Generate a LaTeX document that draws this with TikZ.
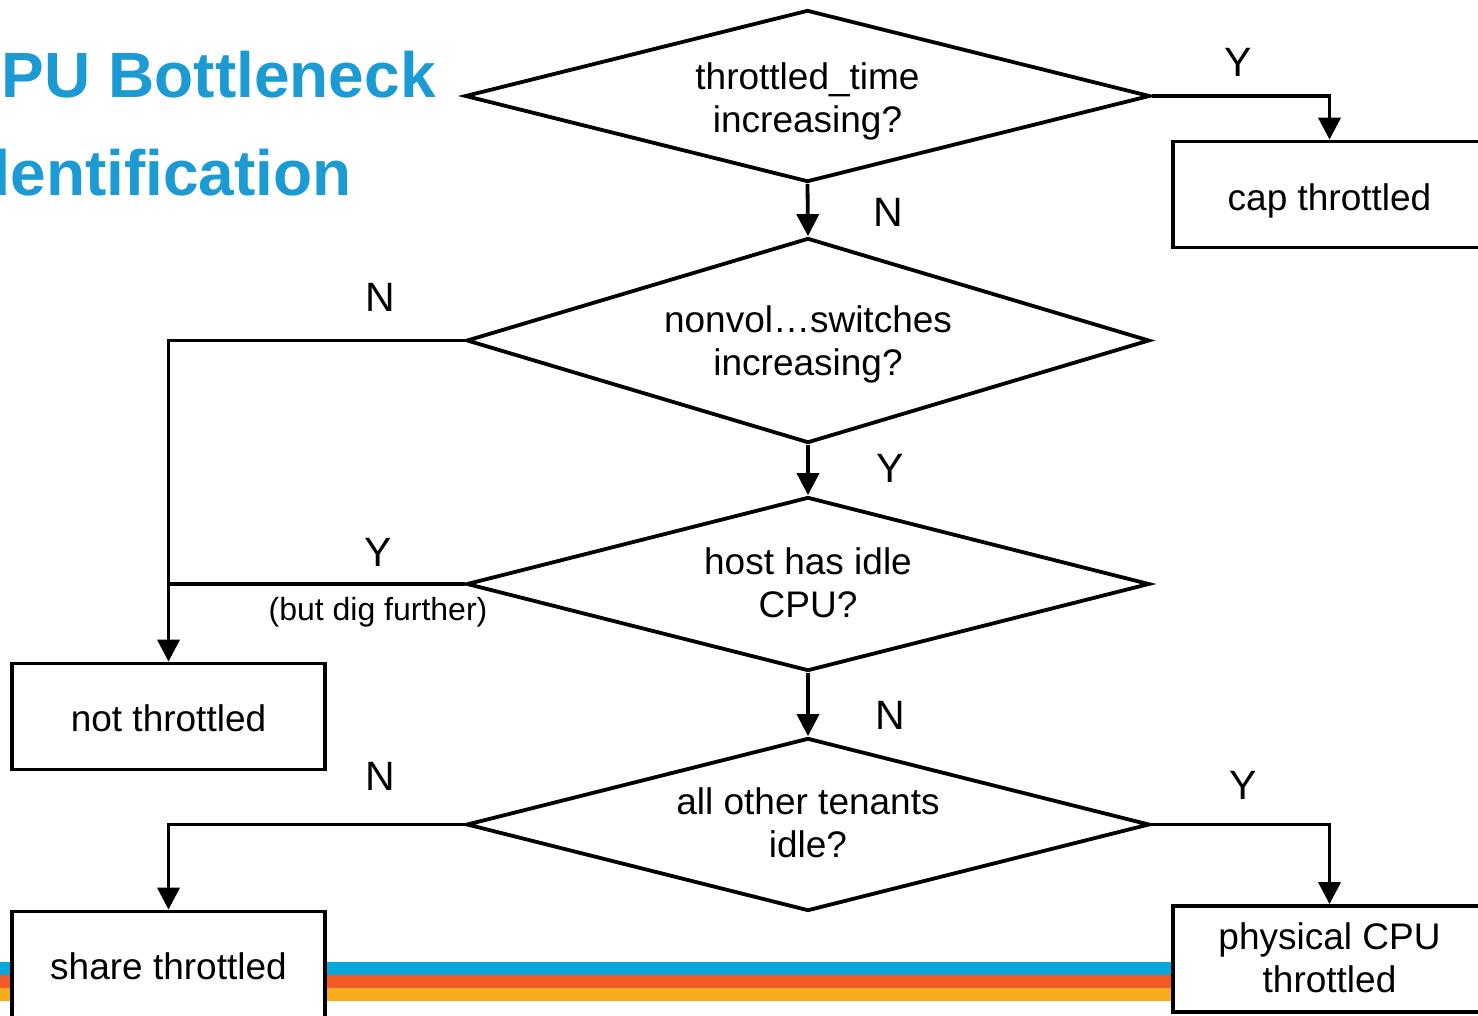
\documentclass[tikz,border=0pt]{standalone}
\usepackage{fontspec}
\setmainfont{Liberation Sans}
\usetikzlibrary{shapes.geometric,arrows.meta}
\definecolor{titleblue}{HTML}{1B9AD3}
\definecolor{stripeblue}{HTML}{08A9DA}
\definecolor{stripeorange}{HTML}{F15A24}
\definecolor{stripeyellow}{HTML}{F9AC1B}
% lower a text block without changing the box used to centre it
\newcommand{\lowered}[2]{\raisebox{#1}[\height][\depth]{#2}}
% two centred lines
\newcommand{\pair}[2]{\begin{tabular}{@{}c@{}}#1\\#2\end{tabular}}
\tikzset{
  decision/.style={diamond, draw, line width=3.8pt, fill=white, inner sep=0pt,
    font=\fontsize{37}{43}\selectfont},
  outcome/.style={rectangle, draw, line width=3.8pt, fill=white, inner sep=0pt,
    minimum width=313pt, minimum height=106pt,
    font=\fontsize{37}{43}\selectfont},
  flow/.style={line width=3.8pt, -{Triangle[length=22pt,width=22pt]}},
  joinline/.style={line width=3.8pt},
  answer/.style={font=\fontsize{41}{48}\selectfont, inner sep=0pt},
  remark/.style={font=\fontsize{32}{38}\selectfont, inner sep=0pt},
  heading/.style={font=\fontsize{64}{76}\selectfont\bfseries, text=titleblue, inner sep=0pt, anchor=base east}
}
\begin{document}
\begin{tikzpicture}[x=1pt,y=-1pt]
\useasboundingbox (0,0) rectangle (1478,1015);
\clip (0,0) rectangle (1478,1015);

% colour bands along the bottom edge
\fill[stripeblue]   (0,962) rectangle (1478,975);
\fill[stripeorange] (0,975) rectangle (1478,988);
\fill[stripeyellow] (0,988) rectangle (1478,1001);

% heading
\node[heading] (title1) at (436,97) {CPU Bottleneck};
\node[heading] (title2) at (352,195) {Identification};

% decisions
\node[decision, aspect=3.983, minimum width=685pt, minimum height=172pt] (d1) at (807.5,96)
  {\lowered{-6pt}{\pair{throttled\_time}{increasing?}}};
\node[decision, aspect=3.332, minimum width=683pt, minimum height=205pt] (d2) at (808,340.5)
  {\lowered{-5pt}{\pair{nonvol…switches}{increasing?}}};
\node[decision, aspect=3.925, minimum width=683pt, minimum height=174pt] (d3) at (808,584)
  {\lowered{-3pt}{\pair{host has idle}{CPU?}}};
\node[decision, aspect=3.948, minimum width=683pt, minimum height=173pt] (d4) at (808,824.5)
  {\lowered{-3pt}{\pair{all other tenants}{idle?}}};

% outcomes
\node[outcome] (cap)   at (1329.5,194.5) {\lowered{-6pt}{cap throttled}};
\node[outcome] (notth) at (168.5,716.5)  {\lowered{-2pt}{not throttled}};
\node[outcome] (share) at (168.5,964.5)  {\lowered{-2pt}{share throttled}};
\node[outcome] (phys)  at (1329.5,959)   {\lowered{-3pt}{\pair{physical CPU}{throttled}}};

% connectors
\draw[flow] (d1.south) -- (d2.north);
\draw[flow] (d2.south) -- (d3.north);
\draw[flow] (d3.south) -- (d4.north);
\draw[flow] (d1.east) -| (cap.north);
\draw[flow] (d2.west) -| (notth.north);
\draw[joinline] (d3.west) -- (d3.west -| notth.north);
\draw[flow] (d4.west) -| (share.north);
\draw[flow] (d4.east) -| (phys.north);

% answer labels
\node[answer] (l1) at (888,212) {N};
\node[answer] (l2) at (890,468) {Y};
\node[answer] (l3) at (890,715) {N};
\node[answer] (l4) at (1238,62) {Y};
\node[answer] (l5) at (380,297) {N};
\node[answer] (l6) at (378,552) {Y};
\node[remark] (l7) at (378,612) {(but dig further)};
\node[answer] (l8) at (380,776) {N};
\node[answer] (l9) at (1243,785) {Y};
\end{tikzpicture}
\end{document}
